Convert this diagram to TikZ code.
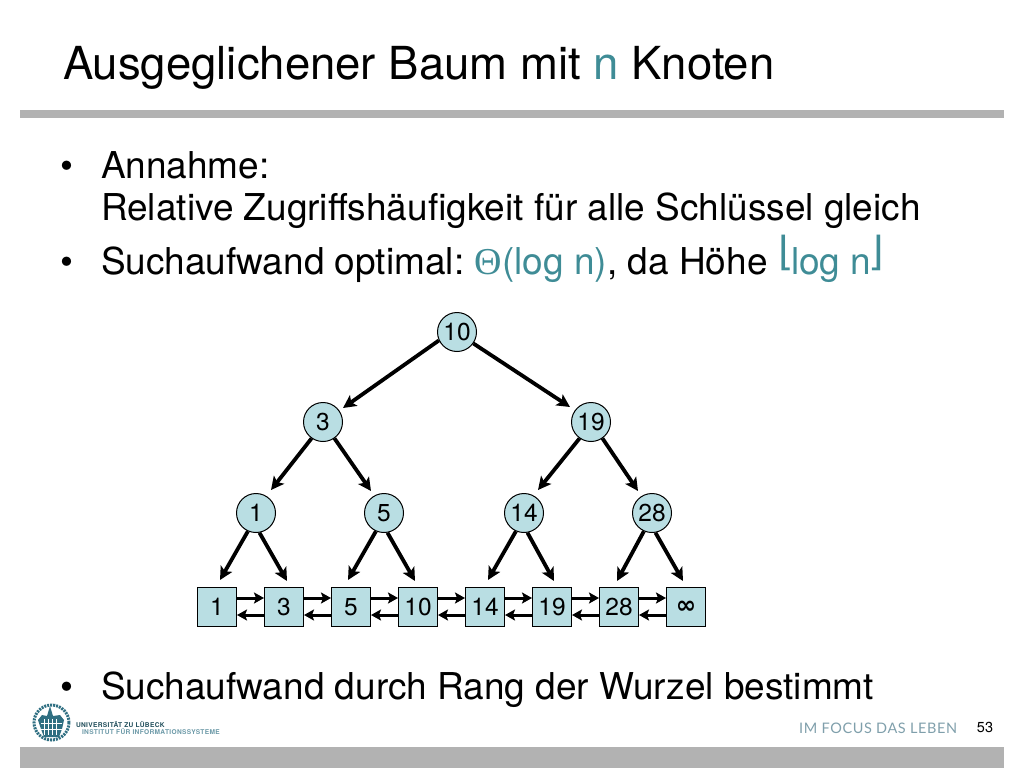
\documentclass[tikz,border=0pt]{standalone}
\usepackage{fontspec}
\setmainfont{TeX Gyre Heros}
\newfontfamily\dejavu{DejaVu Sans}
\newfontfamily\serifth{Liberation Serif}
\newfontfamily\lato[LetterSpace=4]{Lato}
\newfontfamily\logof[LetterSpace=5]{TeX Gyre Heros}
\usetikzlibrary{arrows.meta,calc}
\definecolor{teal1}{HTML}{3F8C96}
\definecolor{fillc}{HTML}{B9DEE3}
\definecolor{barc}{HTML}{B2B2B2}
\definecolor{focusc}{HTML}{7F9FAB}
\definecolor{logoc}{HTML}{2F6F82}
\newcommand{\fs}[1]{\fontsize{#1}{#1}\selectfont}
\tikzset{
  x=1pt,y=-1pt,
  txt/.style={anchor=base west,inner sep=0pt,outer sep=0pt,font=\fs{37}},
  knot/.style={circle,draw=black,line width=1pt,fill=fillc,minimum size=39pt,inner sep=0pt,font=\fs{24.5}},
  leaf/.style={rectangle,draw=black,line width=1pt,fill=fillc,minimum size=39pt,inner sep=0pt,font=\fs{24.5}},
  arr/.style={draw=black,line width=3.8pt,-{Stealth[length=13pt,width=13pt,inset=3pt]}},
  larr/.style={draw=black,line width=3pt,-{Stealth[length=10pt,width=11pt,inset=2pt]}},
}
\begin{document}
\begin{tikzpicture}
\useasboundingbox (0,0) rectangle (1024,768);
\fill[barc] (20,110) rectangle (1004,118);
\fill[barc] (20,747) rectangle (1004,768);
\node[txt,font=\fs{45.5}] (title) at (63,79) {Ausgeglichener Baum mit {\color{teal1}n} Knoten};
\node[txt] (b1) at (60,178) {•};
\node[txt] (l1) at (101,178) {Annahme:};
\node[txt] (l2) at (101,220) {Relative Zugriffshäufigkeit für alle Schlüssel gleich};
\node[txt] (b2) at (60,274) {•};
\node[txt] (l3) at (101,274) {Suchaufwand optimal:\hspace{-3pt} {\color{teal1}{\serifth\fs{38}Θ}(log n)}, da Höhe {\color{teal1}\raisebox{9pt}{\dejavu\fs{40}⌊}\hspace{-2.5pt}log n\hspace{-3pt}\raisebox{9pt}{\dejavu\fs{40}⌋}}};
\node[txt] (b3) at (60,699) {•};
\node[txt] (l4) at (101,699) {Suchaufwand durch Rang der Wurzel bestimmt};
% tree
\node[knot] (r) at (457,332) {10};
\node[knot] (a) at (323,422) {3};
\node[knot] (b) at (591,422) {19};
\node[knot] (c1) at (256,513) {1};
\node[knot] (c2) at (384,513) {5};
\node[knot] (c3) at (524,513) {14};
\node[knot] (c4) at (652,513) {28};
\node[leaf] (s1) at (217,607) {1};
\node[leaf] (s2) at (284,607) {3};
\node[leaf] (s3) at (351,607) {5};
\node[leaf] (s4) at (418,607) {10};
\node[leaf] (s5) at (485,607) {14};
\node[leaf] (s6) at (552,607) {19};
\node[leaf] (s7) at (619,607) {28};
\node[leaf] (s8) at (686,607) {{\dejavu\bfseries ∞}};
\draw[arr] (r.205) -- ($(a)+(20,-14)$);
\draw[arr] (r.-35) -- ($(b)+(-21,-15)$);
\draw[arr] (a.235) -- ($(c1.north)+(15,-3)$);
\draw[arr] (a.-55) -- ($(c2.north)+(-13,-2)$);
\draw[arr] (b.235) -- ($(c3.north)+(14,-3)$);
\draw[arr] (b.-55) -- ($(c4.north)+(-14,-2)$);
\draw[arr] (c1.246) -- ($(s1.north)+(3,-7)$);
\draw[arr] (c1.-80) -- ($(s2.north)+(3,-6)$);
\draw[arr] (c2.246) -- ($(s3.north)+(-3,-7)$);
\draw[arr] (c2.-80) -- ($(s4.north)+(-3,-6)$);
\draw[arr] (c3.246) -- ($(s5.north)+(3,-7)$);
\draw[arr] (c3.-80) -- ($(s6.north)+(2,-6)$);
\draw[arr] (c4.246) -- ($(s7.north)+(-2,-6)$);
\draw[arr] (c4.-80) -- ($(s8.north)+(-3,-6)$);
\foreach \p/\q in {s1/s2,s2/s3,s3/s4,s4/s5,s5/s6,s6/s7,s7/s8}{
  \draw[larr] ($(\p.east)+(0,-9)$) -- ($(\q.west)+(0,-9)$);
  \draw[larr] ($(\q.west)+(0,8)$) -- ($(\p.east)+(0,8)$);
}
% footer
\node[txt,font=\fs{14.5},anchor=base] (num) at (985,732) {53};
\node[txt,anchor=base east,font=\lato\fs{14.5},text=focusc] (focus) at (957,733) {IM FOCUS DAS LEBEN};
\node[txt,font=\logof\bfseries\fs{6.6},text=logoc!70!black] (u1) at (76,727) {UNIVERSITÄT ZU LÜBECK};
\node[txt,font=\logof\bfseries\fs{6.6},text=logoc!70] (u2) at (82,734) {INSTITUT FÜR INFORMATIONSSYSTEME};
% logo
\draw[logoc,line width=3pt,dash pattern=on 2pt off 1pt] (51.5,722.5) circle (17.5);
\fill[logoc] (38,720) -- (42,715) -- (47,716) -- (50,706) -- (53,716) -- (60,715) -- (64,720) -- (62,729) -- (59,737) -- (44,737) -- (41,729) -- cycle;
\foreach \u in {44,48,52,56}{\draw[white,line width=0.6pt] (\u,719) -- (\u,735);}
\foreach \v in {723,729}{\draw[white,line width=0.6pt] (41,\v) -- (62,\v);}
\end{tikzpicture}
\end{document}
